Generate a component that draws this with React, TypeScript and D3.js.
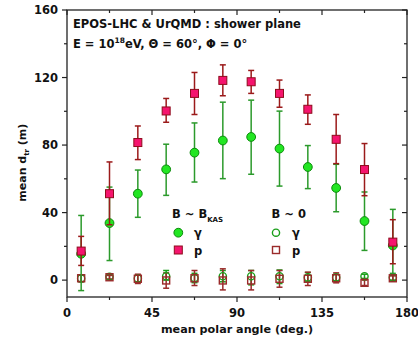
import * as d3 from 'd3'
import React from 'react'

// polar-angle bins (deg.)
const angles = [7.5, 22.5, 37.5, 52.5, 67.5, 82.5, 97.5, 112.5, 127.5, 142.5, 157.5, 172.5]

// B ~ B_KAS
const gammaB = [15.6, 33.8, 51.2, 65.6, 75.5, 82.7, 84.8, 77.9, 67.0, 54.6, 35.0, 20.5]
const gammaBHi = [38.3, 55.1, 65.2, 80.5, 93.1, 105.4, 106.6, 100.1, 79.7, 68.6, 52.2, 41.9]
const gammaBLo = [-6.2, 11.6, 37.2, 50.2, 58.1, 60.1, 62.7, 55.7, 54.2, 40.5, 17.6, 4.0]
const protonB = [17.2, 51.2, 81.5, 100.2, 110.6, 118.3, 117.5, 110.6, 101.2, 83.4, 65.5, 22.5]
const protonBHi = [25.9, 70.0, 91.3, 107.6, 123.0, 127.5, 124.2, 118.5, 109.7, 98.1, 80.9, 35.8]
const protonBLo = [8.7, 32.8, 71.4, 93.5, 98.1, 109.2, 110.6, 102.4, 92.3, 69.0, 50.0, 9.7]

// B ~ 0
const gamma0 = [1.0, 2.0, 1.0, 2.3, 1.2, 2.3, 2.3, 2.3, 1.6, 1.5, 2.3, 1.5]
const gamma0Hi = [3.0, 3.5, 3.0, 5.7, 4.0, 5.7, 5.7, 6.0, 4.5, 3.5, 3.5, 3.0]
const gamma0Lo = [-1.0, 0.5, -1.0, 0.0, -1.5, -1.0, -2.8, -2.0, -1.0, -0.5, 1.0, 0.0]
const proton0 = [1.1, 1.7, 0.8, -0.2, 1.1, -0.2, -0.2, 0.8, 0.8, 1.1, -1.6, 1.1]
const proton0Hi = [3.0, 2.8, 3.5, 4.3, 5.7, 6.7, 5.7, 5.7, 4.7, 4.3, 0.0, 2.5]
const proton0Lo = [-0.8, 0.6, -2.0, -4.8, -3.2, -5.8, -5.8, -4.2, -3.2, -1.6, -3.2, -0.3]

const xTicks = [0, 45, 90, 135, 180]
const xMinor = [22.5, 67.5, 112.5, 157.5]
const yTicks = [0, 40, 80, 120, 160]
const yMinor = [20, 60, 100, 140]

const W = 418
const H = 343
const margin = { top: 10, right: 11, bottom: 46, left: 67 }
const font = '"DejaVu Sans", sans-serif'

const C = {
  gFill: '#22e622',
  gStroke: '#0b8a0b',
  gBar: '#2b9a2b',
  pFill: '#f5146e',
  pStroke: '#8e0c1c',
  pBar: '#9b1a1a',
  g0: '#1a9f1a',
  p0: '#9a2a2a',
  axis: '#222'
}

type Series = { v: number[]; hi: number[]; lo: number[]; bar: string }

function ErrorBars({ s, x, y }: { s: Series; x: d3.ScaleLinear<number, number>; y: d3.ScaleLinear<number, number> }) {
  return (
    <g stroke={s.bar} strokeWidth={1.5} fill="none">
      {angles.map((a, i) => {
        const cx = x(a)
        return (
          <g key={i}>
            <line x1={cx} x2={cx} y1={y(s.hi[i])} y2={y(s.lo[i])} />
            <line x1={cx - 3} x2={cx + 3} y1={y(s.hi[i])} y2={y(s.hi[i])} />
            <line x1={cx - 3} x2={cx + 3} y1={y(s.lo[i])} y2={y(s.lo[i])} />
          </g>
        )
      })}
    </g>
  )
}

export default function App() {
  const iw = W - margin.left - margin.right
  const ih = H - margin.top - margin.bottom
  const x = d3.scaleLinear().domain([0, 180]).range([0, iw])
  const y = d3.scaleLinear().domain([-10, 160]).range([ih, 0])

  const gB: Series = { v: gammaB, hi: gammaBHi, lo: gammaBLo, bar: C.gBar }
  const pB: Series = { v: protonB, hi: protonBHi, lo: protonBLo, bar: C.pBar }
  const g0: Series = { v: gamma0, hi: gamma0Hi, lo: gamma0Lo, bar: C.g0 }
  const p0: Series = { v: proton0, hi: proton0Hi, lo: proton0Lo, bar: C.p0 }

  return (
    <svg width={W} height={H} style={{ position: 'absolute', left: 0, top: 0, background: '#fff' }} fontFamily={font} fontWeight="bold">
      <g transform={`translate(${margin.left},${margin.top})`}>
        {/* open markers (B ~ 0) */}
        <ErrorBars s={g0} x={x} y={y} />
        <ErrorBars s={p0} x={x} y={y} />
        {angles.map((a, i) => (
          <circle key={'g0' + i} cx={x(a)} cy={y(gamma0[i])} r={3.6} fill="none" stroke={C.g0} strokeWidth={1.4} />
        ))}
        {angles.map((a, i) => (
          <rect key={'p0' + i} x={x(a) - 3.5} y={y(proton0[i]) - 3.5} width={7} height={7} fill="none" stroke={C.p0} strokeWidth={1.4} />
        ))}

        {/* filled markers (B ~ B_KAS) */}
        <ErrorBars s={gB} x={x} y={y} />
        {angles.map((a, i) => (
          <circle key={'gB' + i} cx={x(a)} cy={y(gammaB[i])} r={4.4} fill={C.gFill} stroke={C.gStroke} strokeWidth={1} />
        ))}
        <ErrorBars s={pB} x={x} y={y} />
        {angles.map((a, i) => (
          <rect key={'pB' + i} x={x(a) - 4} y={y(protonB[i]) - 4} width={8} height={8} fill={C.pFill} stroke={C.pStroke} strokeWidth={1} />
        ))}

        {/* frame and ticks */}
        <rect x={0} y={0} width={iw} height={ih} fill="none" stroke={C.axis} strokeWidth={1.3} />
        <g stroke={C.axis} strokeWidth={1.2}>
          {xTicks.map(t => (
            <g key={'xt' + t}>
              <line x1={x(t)} x2={x(t)} y1={ih} y2={ih + 5} />
              <line x1={x(t)} x2={x(t)} y1={0} y2={5} />
            </g>
          ))}
          {xMinor.map(t => (
            <g key={'xm' + t}>
              <line x1={x(t)} x2={x(t)} y1={ih} y2={ih + 3} />
              <line x1={x(t)} x2={x(t)} y1={0} y2={3} />
            </g>
          ))}
          {yTicks.map(t => (
            <g key={'yt' + t}>
              <line x1={-5} x2={0} y1={y(t)} y2={y(t)} />
              <line x1={iw - 5} x2={iw} y1={y(t)} y2={y(t)} />
            </g>
          ))}
          {yMinor.map(t => (
            <g key={'ym' + t}>
              <line x1={-3} x2={0} y1={y(t)} y2={y(t)} />
              <line x1={iw - 3} x2={iw} y1={y(t)} y2={y(t)} />
            </g>
          ))}
        </g>

        {/* tick labels */}
        <g fontSize={11.5} fill="#111">
          {xTicks.map(t => (
            <text key={'xl' + t} x={x(t)} y={ih + 19.5} textAnchor="middle">{t}</text>
          ))}
          {yTicks.map(t => (
            <text key={'yl' + t} x={-9} y={y(t) + 4.2} textAnchor="end">{t}</text>
          ))}
        </g>

        {/* title */}
        <g fontSize={11.5} fill="#111">
          <text x={6} y={18.3}>EPOS-LHC &amp; UrQMD : shower plane</text>
          <text x={6} y={38.3}>
            E = 10<tspan fontSize={7.5} dy={-5}>18</tspan>
            <tspan dy={5}>eV, Θ = 60°, Φ = 0°</tspan>
          </text>
        </g>

        {/* legend */}
        <g fontSize={11.5} fill="#111">
          <text x={105} y={208}>
            B ~ B<tspan fontSize={7} dy={4}>KAS</tspan>
          </text>
          <circle cx={111.3} cy={222.7} r={4.4} fill={C.gFill} stroke={C.gStroke} strokeWidth={1} />
          <text x={127} y={227}>γ</text>
          <rect x={107.3} y={236} width={8} height={8} fill={C.pFill} stroke={C.pStroke} strokeWidth={1} />
          <text x={127} y={245}>p</text>

          <text x={204.5} y={208}>B ~ 0</text>
          <circle cx={209} cy={222.7} r={3.6} fill="none" stroke={C.g0} strokeWidth={1.4} />
          <text x={225} y={227}>γ</text>
          <rect x={205.5} y={236.5} width={7} height={7} fill="none" stroke={C.p0} strokeWidth={1.4} />
          <text x={225} y={245}>p</text>
        </g>
      </g>

      {/* axis titles */}
      <text x={margin.left + iw / 2} y={333} textAnchor="middle" fontSize={11.2} fill="#111">mean polar angle (deg.)</text>
      <text transform="translate(25.5,201.7) rotate(-90)" fontSize={11} fill="#111">
        mean d<tspan fontSize={7} dy={3}>tr</tspan>
        <tspan dy={-3}> (m)</tspan>
      </text>
    </svg>
  )
}
